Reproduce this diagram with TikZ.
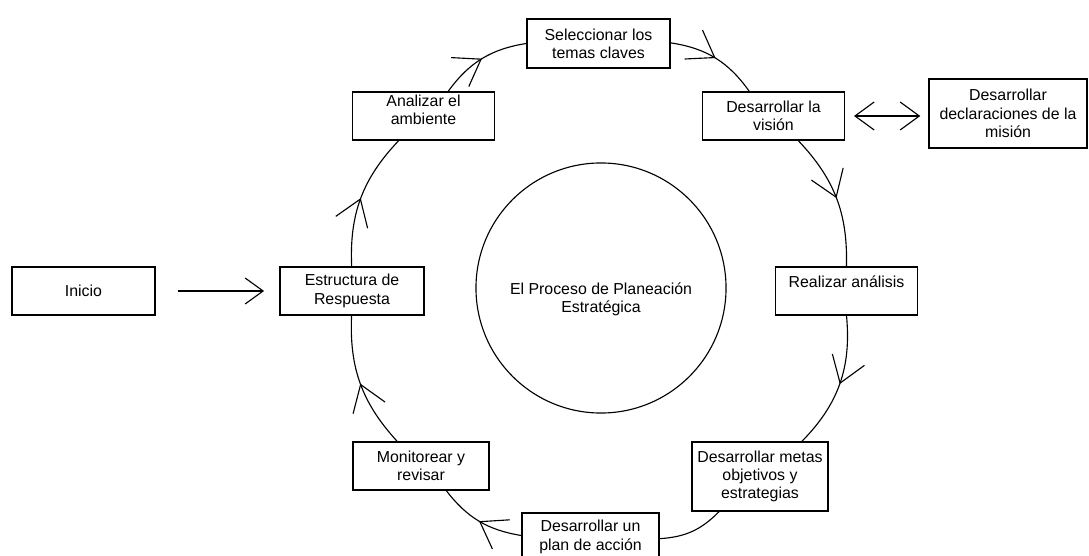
\documentclass[tikz,border=0pt]{standalone}
\usepackage{fontspec}
\setmainfont{Liberation Sans}
\usetikzlibrary{arrows.meta,decorations.markings}

\tikzset{
  letra/.style={font=\fontsize{11.3}{13}\selectfont, align=center},
  caja/.style={letra, draw, line width=1pt, fill=white, inner sep=2pt,
    minimum width=3.55cm, minimum height=1.2cm},
  tramo/.style={line width=0.8pt},
  ciclo/.style={tramo, postaction=decorate, decoration={markings,
    mark=at position 0.5 with {\arrow{Straight Barb[length=6.2mm,width=8.5mm]}}}},
}

\begin{document}
\begin{tikzpicture}[x=0.025cm, y=-0.025cm]
        \clip (0,0) rectangle (1089,556);

        \node[caja, minimum width=3.575cm, minimum height=1.225cm] (sel) at (598.5,43.5) {Seleccionar los\\temas claves};
        \node[caja] (ana) at (423.5,116) {Analizar el\\ambiente\\[-4pt]\mbox{}};
        \node[caja] (vis) at (773.5,116) {Desarrollar la\\visión};
        \node[caja, minimum width=3.95cm, minimum height=1.725cm] (mis) at (1008,113.5) {Desarrollar\\declaraciones de la\\misión};
        \node[caja] (rea) at (846.5,291) {Realizar análisis\\\mbox{}};
        \node[caja, minimum width=3.4cm, minimum height=1.725cm] (met) at (760,476.5) {Desarrollar metas\\objetivos y\\estrategias};
        \node[caja, minimum width=3.425cm] (pla) at (590.5,537) {Desarrollar un\\plan de acción};
        \node[caja, minimum width=3.4cm] (mon) at (421,466) {Monitorear y\\revisar};
        \node[caja, minimum width=3.6cm] (est) at (352,291) {Estructura de\\Respuesta};
        \node[caja, minimum width=3.575cm] (ini) at (83.5,291) {Inicio};

        % circulo central
        \node[circle, draw, line width=0.8pt, minimum size=6.25cm] (nuc) at (601,288) {};
        \node[letra] (titulo) at (601,299) {El Proceso de Planeación\\Estratégica};

        % anillo del ciclo
        \draw[ciclo] (ana) to[bend left=22.5] (sel);
        \draw[ciclo] (sel) to[bend left=23] (vis);
        \draw[ciclo] (vis) to[bend left=22.5] (rea);
        \draw[ciclo] (rea) to[bend left=25] (met);
        \draw[tramo] (met) to[bend left=21] (pla);
        \draw[ciclo] (pla) to[bend left=21.5] (mon);
        \draw[ciclo] (mon) to[bend left=22.5] (est);
        \draw[ciclo] (est) to[bend left=23] (ana);

        \draw[tramo, -{Straight Barb[length=4.5mm,width=6.5mm]}, shorten <=5.5mm, shorten >=3.8mm] (ini) -- (est);
        \draw[tramo, {Straight Barb[length=4.8mm,width=7mm]}-{Straight Barb[length=4.8mm,width=7mm]},
          shorten <=2.2mm, shorten >=2mm] (vis.east) -- (vis.east -| mis.west);
      \end{tikzpicture}
\end{document}
